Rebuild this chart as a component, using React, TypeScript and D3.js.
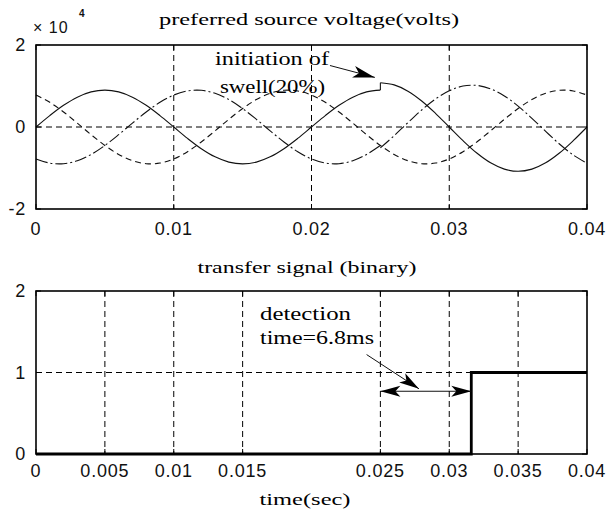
import React from "react";
import * as d3 from "d3";

// ---------- data ----------
// sample times (seconds), 1 ms grid
const timePre = [0, 0.001, 0.002, 0.003, 0.004, 0.005, 0.006, 0.007, 0.008, 0.009, 0.01, 0.011, 0.012, 0.013, 0.014, 0.015, 0.016, 0.017, 0.018, 0.019, 0.02, 0.021, 0.022, 0.023, 0.024, 0.025];
const timePost = [0.025, 0.026, 0.027, 0.028, 0.029, 0.03, 0.031, 0.032, 0.033, 0.034, 0.035, 0.036, 0.037, 0.038, 0.039, 0.04];
const timeAll = [0, 0.001, 0.002, 0.003, 0.004, 0.005, 0.006, 0.007, 0.008, 0.009, 0.01, 0.011, 0.012, 0.013, 0.014, 0.015, 0.016, 0.017, 0.018, 0.019, 0.02, 0.021, 0.022, 0.023, 0.024, 0.025, 0.026, 0.027, 0.028, 0.029, 0.03, 0.031, 0.032, 0.033, 0.034, 0.035, 0.036, 0.037, 0.038, 0.039, 0.04];

// source voltages, units of 10^4 V
const phaseAPre = [0, 0.278, 0.529, 0.728, 0.856, 0.9, 0.856, 0.728, 0.529, 0.278, 0, -0.278, -0.529, -0.728, -0.856, -0.9, -0.856, -0.728, -0.529, -0.278, 0, 0.278, 0.529, 0.728, 0.856, 0.9];
const phaseAPost = [1.08, 1.027, 0.874, 0.635, 0.334, 0, -0.334, -0.635, -0.874, -1.027, -1.08, -1.027, -0.874, -0.635, -0.334, 0];
const phaseBPre = [-0.779, -0.88, -0.895, -0.822, -0.669, -0.45, -0.187, 0.094, 0.366, 0.602, 0.779, 0.88, 0.895, 0.822, 0.669, 0.45, 0.187, -0.094, -0.366, -0.602, -0.779, -0.88, -0.895, -0.822, -0.669, -0.45];
const phaseBPost = [-0.51, -0.212, 0.107, 0.415, 0.682, 0.883, 0.998, 1.015, 0.932, 0.758, 0.51, 0.212, -0.107, -0.415, -0.682, -0.883];
const phaseC = [0.779, 0.602, 0.366, 0.094, -0.187, -0.45, -0.669, -0.822, -0.895, -0.88, -0.779, -0.602, -0.366, -0.094, 0.187, 0.45, 0.669, 0.822, 0.895, 0.88, 0.779, 0.602, 0.366, 0.094, -0.187, -0.45, -0.669, -0.822, -0.895, -0.88, -0.779, -0.602, -0.366, -0.094, 0.187, 0.45, 0.669, 0.822, 0.895, 0.88, 0.779];

// transfer signal (binary)
const transferTime = [0, 0.0316, 0.04];
const transferValue = [0, 1, 1];

// ticks
const topXTicks = [0, 0.01, 0.02, 0.03, 0.04];
const topXLabels = ["0", "0.01", "0.02", "0.03", "0.04"];
const topYTicks = [-2, 0, 2];
const topYLabels = ["-2", "0", "2"];
const botXTicks = [0, 0.005, 0.01, 0.015, 0.025, 0.03, 0.035, 0.04];
const botXLabels = ["0", "0.005", "0.01", "0.015", "0.025", "0.03", "0.035", "0.04"];
const botYTicks = [0, 1, 2];
const botYLabels = ["0", "1", "2"];

// annotation texts
const swellText = ["initiation of", "swell(20%)"];
const detectText = ["detection", "time=6.8ms"];

// ---------- layout ----------
const W = 608, H = 516;
const L = 36, R = 587;
const topT = 45, topB = 209;
const botT = 291, botB = 454;
const TICK = 5;

const SANS = "'Liberation Sans', Arial, sans-serif";
const SERIF = "'Liberation Serif', 'Times New Roman', serif";

export default function App() {
  const x = d3.scaleLinear().domain([0, 0.04]).range([L, R]);
  const yTop = d3.scaleLinear().domain([-2, 2]).range([topB, topT]);
  const yBot = d3.scaleLinear().domain([0, 2]).range([botB, botT]);

  const line = (ts: number[], vs: number[], y: d3.ScaleLinear<number, number>) =>
    d3.line<number>().x((_, i) => x(ts[i])).y((v) => y(v)).curve(d3.curveCatmullRom.alpha(0.5))(vs) || "";

  const stepPath =
    d3.line<number>().x((_, i) => x(transferTime[i])).y((v) => yBot(v)).curve(d3.curveStepAfter)(transferValue) || "";

  const grid = { stroke: "#000", strokeWidth: 1, strokeDasharray: "6,4" };
  const lab = { fontFamily: SANS, fontSize: 18, letterSpacing: 0.8, fill: "#111" } as const;
  const serifTxt = { fontFamily: SERIF, fill: "#000", lengthAdjust: "spacingAndGlyphs" } as const;

  // barbed arrow head helper
  const head = (x1: number, y1: number, x2: number, y2: number, len: number, wid: number) => {
    const a = Math.atan2(y2 - y1, x2 - x1);
    const c = Math.cos(a), s = Math.sin(a);
    const bx = x2 - len * c, by = y2 - len * s;
    const nx = x2 - len * 0.75 * c, ny = y2 - len * 0.75 * s;
    const px = -s * wid / 2, py = c * wid / 2;
    return `M${x2},${y2}L${bx + px},${by + py}L${nx},${ny}L${bx - px},${by - py}Z`;
  };

  const ticks = (xs: number[], ys: number[], y: d3.ScaleLinear<number, number>, t: number, b: number, key: string) => (
    <g key={key}>
      {xs.map((v) => (
        <g key={key + "x" + v}>
          <line x1={x(v)} x2={x(v)} y1={b} y2={b - TICK} stroke="#000" />
          <line x1={x(v)} x2={x(v)} y1={t} y2={t + TICK} stroke="#000" />
        </g>
      ))}
      {ys.map((v) => (
        <g key={key + "y" + v}>
          <line x1={L} x2={L + TICK} y1={y(v)} y2={y(v)} stroke="#000" />
          <line x1={R} x2={R - TICK} y1={y(v)} y2={y(v)} stroke="#000" />
        </g>
      ))}
    </g>
  );

  // top annotation anchors (data coordinates)
  const sT1 = { x: x(0.02134), y: yTop(1.5) };
  const sT2 = { x: x(0.0246), y: yTop(1.21) };
  // bottom annotation anchors (data coordinates)
  const dL1 = { x: x(0.024), y: yBot(1.22) };
  const dL2 = { x: x(0.0278), y: yBot(0.8) };
  const hY = yBot(0.77);
  const hX1 = x(0.025), hX2 = x(0.0316);

  return (
    <svg width={W} height={H} style={{ position: "absolute", left: 0, top: 0, background: "#fff" }}>
      <rect x={0} y={0} width={W} height={H} fill="#fff" />

      {/* ---------- TOP PLOT ---------- */}
      <text x={309} y={25} textAnchor="middle" fontSize={17} textLength={300} {...serifTxt}>
        preferred source voltage(volts)
      </text>
      <text x={33} y={33} fontFamily={SANS} fontSize={16} letterSpacing={1} fill="#111">× 10</text>
      <text x={79} y={17} fontFamily={SANS} fontSize={10} fontWeight="bold" fill="#111">4</text>

      {[0.01, 0.02, 0.03].map((t) => (
        <line key={"tg" + t} x1={x(t)} x2={x(t)} y1={topT} y2={topB} {...grid} />
      ))}
      <line x1={L} x2={R} y1={yTop(0)} y2={yTop(0)} {...grid} />

      <path d={line(timePre, phaseAPre, yTop)} fill="none" stroke="#111" strokeWidth={1.1} />
      <path d={line(timePost, phaseAPost, yTop)} fill="none" stroke="#111" strokeWidth={1.1} />
      <line x1={x(0.025)} x2={x(0.025)} y1={yTop(0.9)} y2={yTop(1.08)} stroke="#111" strokeWidth={1.1} />
      <path d={line(timePre, phaseBPre, yTop)} fill="none" stroke="#111" strokeWidth={1.1} strokeDasharray="12,3,2,3" />
      <path d={line(timePost, phaseBPost, yTop)} fill="none" stroke="#111" strokeWidth={1.1} strokeDasharray="12,3,2,3" />
      <path d={line(timeAll, phaseC, yTop)} fill="none" stroke="#111" strokeWidth={1.1} strokeDasharray="6,4" />

      {ticks(topXTicks, topYTicks, yTop, topT, topB, "tt")}
      <rect x={L} y={topT} width={R - L} height={topB - topT} fill="none" stroke="#000" strokeWidth={1.6} />

      {topYTicks.map((v, i) => (
        <text key={"tyl" + v} x={26} y={yTop(v) + 6} textAnchor="end" {...lab}>{topYLabels[i]}</text>
      ))}
      {topXTicks.map((t, i) => (
        <text key={"txl" + t} x={x(t)} y={235} textAnchor="middle" {...lab}>{topXLabels[i]}</text>
      ))}

      <text x={215} y={65} fontSize={18} textLength={114} {...serifTxt}>{swellText[0]}</text>
      <text x={220} y={93} fontSize={18} textLength={105} {...serifTxt}>{swellText[1]}</text>
      <line x1={sT1.x} y1={sT1.y} x2={sT2.x} y2={sT2.y} stroke="#111" strokeWidth={1} />
      <path d={head(sT1.x, sT1.y, sT2.x, sT2.y, 22, 12)} fill="#000" />

      {/* ---------- BOTTOM PLOT ---------- */}
      <text x={307} y={273} textAnchor="middle" fontSize={17} textLength={219} {...serifTxt}>
        transfer signal (binary)
      </text>

      {botXTicks.filter((t) => t > 0 && t < 0.04).map((t) => (
        <line key={"bg" + t} x1={x(t)} x2={x(t)} y1={botT} y2={botB} {...grid} />
      ))}
      <line x1={L} x2={R} y1={yBot(1)} y2={yBot(1)} {...grid} />

      {ticks(botXTicks, botYTicks, yBot, botT, botB, "bt")}
      <rect x={L} y={botT} width={R - L} height={botB - botT} fill="none" stroke="#000" strokeWidth={1.6} />
      <path d={stepPath} fill="none" stroke="#000" strokeWidth={2.8} />

      {botYTicks.map((v, i) => (
        <text key={"byl" + v} x={26} y={yBot(v) + 6} textAnchor="end" {...lab}>{botYLabels[i]}</text>
      ))}
      {botXTicks.map((t, i) => (
        <text key={"bxl" + t} x={x(t)} y={477} textAnchor="middle" {...lab}>{botXLabels[i]}</text>
      ))}
      <text x={305} y={505} textAnchor="middle" fontSize={17} textLength={91} {...serifTxt}>time(sec)</text>

      <text x={260} y={320} fontSize={18} textLength={91} {...serifTxt}>{detectText[0]}</text>
      <text x={260} y={344} fontSize={18} textLength={114} {...serifTxt}>{detectText[1]}</text>
      <line x1={dL1.x} y1={dL1.y} x2={dL2.x} y2={dL2.y} stroke="#111" strokeWidth={1} />
      <path d={head(dL1.x, dL1.y, dL2.x, dL2.y, 20, 11)} fill="#000" />
      <line x1={hX1} y1={hY} x2={hX2} y2={hY} stroke="#111" strokeWidth={1.2} />
      <path d={head(hX2, hY, hX1, hY, 20, 11)} fill="#000" />
      <path d={head(hX1, hY, hX2, hY, 20, 11)} fill="#000" />
    </svg>
  );
}
